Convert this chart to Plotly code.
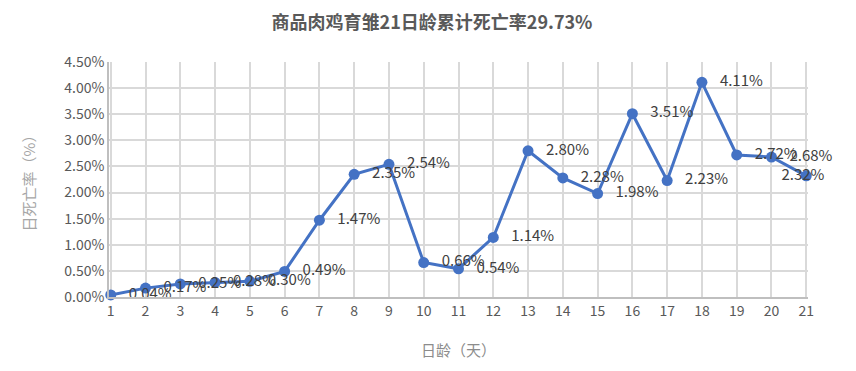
import plotly.graph_objects as go

days = list(range(1, 22))
rates = [0.04, 0.17, 0.25, 0.28, 0.30, 0.49, 1.47, 2.35, 2.54, 0.66, 0.54,
         1.14, 2.80, 2.28, 1.98, 3.51, 2.23, 4.11, 2.72, 2.68, 2.32]
labels = [f"{v:.2f}%" for v in rates]
yvals = [v / 100 for v in rates]

font = "Noto Sans CJK SC, sans-serif"
texts = ["   " + t for t in labels]
positions = ["middle right"] * len(days)
texts[-1] = labels[-1] + "  "
positions[-1] = "middle center"

fig = go.Figure(go.Scatter(
    x=days, y=yvals, mode="lines+markers+text",
    line=dict(color="#4472C4", width=3),
    marker=dict(color="#4472C4", size=11),
    text=texts, textposition=positions,
    textfont=dict(size=15, color="#404040", family=font),
    cliponaxis=False, hoverinfo="skip"))

fig.update_layout(
    width=848, height=363,
    margin=dict(l=101, r=48, t=54, b=74),
    paper_bgcolor="white", plot_bgcolor="white",
    showlegend=False,
    font=dict(family=font, color="#595959"),
    title=dict(text="<b>商品肉鸡育雏21日龄累计死亡率29.73%</b>", x=0.5, xanchor="center",
               y=0.96, yanchor="middle", font=dict(size=18, color="#595959", family=font)),
    xaxis=dict(range=[0.95, 21.05], tickmode="array", tickvals=days, ticktext=[str(d) for d in days],
               showgrid=True, gridcolor="#D9D9D9", gridwidth=1.5, zeroline=False,
               showline=True, linecolor="#BFBFBF", linewidth=1.5, automargin=False,
               tickfont=dict(size=14, color="#595959"),
               title=dict(text="日龄（天）", font=dict(size=15, color="#8C8C8C"), standoff=27)),
    yaxis=dict(range=[0, 0.045], tickmode="array",
               tickvals=[i * 0.005 for i in range(10)], tickformat=".2%",
               showgrid=True, gridcolor="#D9D9D9", gridwidth=1.5, zeroline=False,
               showline=True, linecolor="#BFBFBF", linewidth=1.5, automargin=False,
               tickfont=dict(size=14, color="#595959"), ticks="", ticklen=0,
               title=dict(text="日死亡率（%）", font=dict(size=15, color="#A6A6A6"), standoff=25)),
)
fig.write_html("out.html")
